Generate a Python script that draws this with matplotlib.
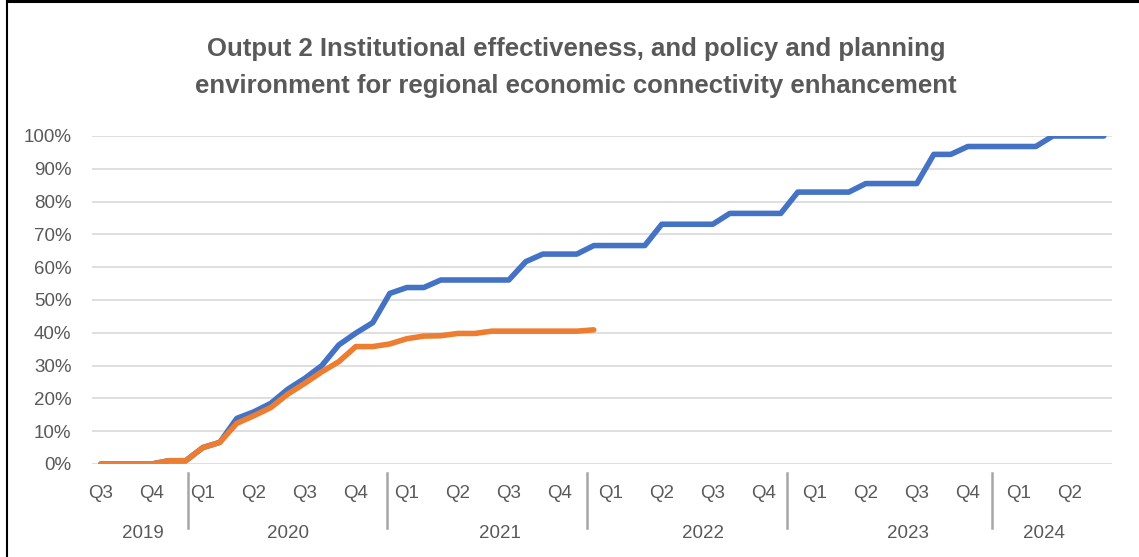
import matplotlib
matplotlib.use("Agg")
import matplotlib.pyplot as plt
from matplotlib.lines import Line2D

# ---------------- data ----------------
# monthly categories Jul-2019 .. Jun-2024 (60 months)
planned = [0, 0, 0, 0, 1, 1,
           5, 6.6, 13.9, 15.9, 18.5, 22.8, 26.1, 30.0, 36.3, 39.9, 43.1, 52.0,
           53.8, 53.8, 56.1, 56.1, 56.1, 56.1, 56.1, 61.7, 64.0, 64.0, 64.0, 66.6,
           66.6, 66.6, 66.6, 73.1, 73.1, 73.1, 73.1, 76.4, 76.4, 76.4, 76.4, 82.9,
           82.9, 82.9, 82.9, 85.5, 85.5, 85.5, 85.5, 94.4, 94.4, 96.8, 96.8, 96.8,
           96.8, 96.8, 100, 100, 100, 100]
actual = [0, 0, 0, 0, 1, 1,
          5, 6.6, 12.4, 14.7, 17.2, 21.3, 24.6, 28.1, 31.2, 35.8, 35.8, 36.6,
          38.2, 39.0, 39.1, 39.8, 39.8, 40.5, 40.5, 40.5, 40.5, 40.5, 40.5, 40.9]
quarter_labels = ["Q3", "Q4",
                  "Q1", "Q2", "Q3", "Q4",
                  "Q1", "Q2", "Q3", "Q4",
                  "Q1", "Q2", "Q3", "Q4",
                  "Q1", "Q2", "Q3", "Q4",
                  "Q1", "Q2"]
year_labels = ["2019", "2020", "2021", "2022", "2023", "2024"]
year_label_pos = [2.45, 11.0, 23.5, 35.4, 47.5, 55.5]
year_sep_pos = [5.11, 16.82, 28.6, 40.36, 52.4]
y_ticks = [0, 10, 20, 30, 40, 50, 60, 70, 80, 90, 100]
title = ("Output 2 Institutional effectiveness, and policy and planning\n"
         "environment for regional economic connectivity enhancement")

BLUE = "#4472C4"
ORANGE = "#ED7D31"
TEXT = "#595959"
GRID = "#D9D9D9"
SEP = "#A6A6A6"

plt.rcParams['font.family'] = ['Liberation Sans', 'DejaVu Sans']

W, H = 1139, 557
fig = plt.figure(figsize=(W / 100, H / 100), dpi=100)
fig.patch.set_facecolor("white")

ax_l, ax_r, ax_t, ax_b = 92.3, 1112.3, 136, 464
ax = fig.add_axes([ax_l / W, 1 - ax_b / H, (ax_r - ax_l) / W, (ax_b - ax_t) / H])

x_pl = list(range(len(planned)))
x_ac = list(range(len(actual)))
ax.plot(x_pl, planned, color=BLUE, lw=4.0, solid_capstyle="round",
        solid_joinstyle="round", zorder=3)
ax.plot(x_ac, actual, color=ORANGE, lw=4.0, solid_capstyle="round",
        solid_joinstyle="round", zorder=4)

ax.set_xlim(-0.5, len(planned) - 0.5)
ax.set_ylim(0, 100)
for s in ax.spines.values():
    s.set_visible(False)

ax.set_yticks(y_ticks)
ax.set_yticklabels([f"{v}%" for v in y_ticks])
ax.tick_params(axis="y", length=0, pad=15, labelsize=13.5, labelcolor=TEXT)
for v in y_ticks:
    ax.axhline(v, color=GRID, lw=1.2, zorder=1)

# quarter labels at first month of each quarter
q_pos = [3 * i for i in range(len(quarter_labels))]
ax.set_xticks(q_pos)
ax.set_xticklabels(quarter_labels)
ax.tick_params(axis="x", length=0, pad=21, labelsize=13.5, labelcolor=TEXT)
for lab in ax.get_xticklabels():
    lab.set_verticalalignment("center")

trans = ax.get_xaxis_transform()
hpx = ax_b - ax_t
for lab, xp in zip(year_labels, year_label_pos):
    ax.text(xp, (ax_b - 533) / hpx, lab, transform=trans, ha="center",
            va="center", fontsize=13.5, color=TEXT, clip_on=False)
for xp in year_sep_pos:
    ax.add_line(Line2D([xp, xp], [(ax_b - 473) / hpx, (ax_b - 528) / hpx],
                       transform=trans, color=SEP, lw=1.8, clip_on=False))

fig.text(576 / W, 1 - 67.5 / H, title, ha="center", va="center",
         fontsize=18.5, fontweight="bold", color=TEXT, linespacing=1.7)

# chart border (left and top)
fig.add_artist(Line2D([7 / W, 7 / W], [0, 1], transform=fig.transFigure,
                      color="black", lw=1.5))
fig.add_artist(Line2D([7 / W, 1], [1 - 1.2 / H, 1 - 1.2 / H],
                      transform=fig.transFigure, color="black", lw=2.2))

fig.savefig("out.png", dpi=100, facecolor="white")
